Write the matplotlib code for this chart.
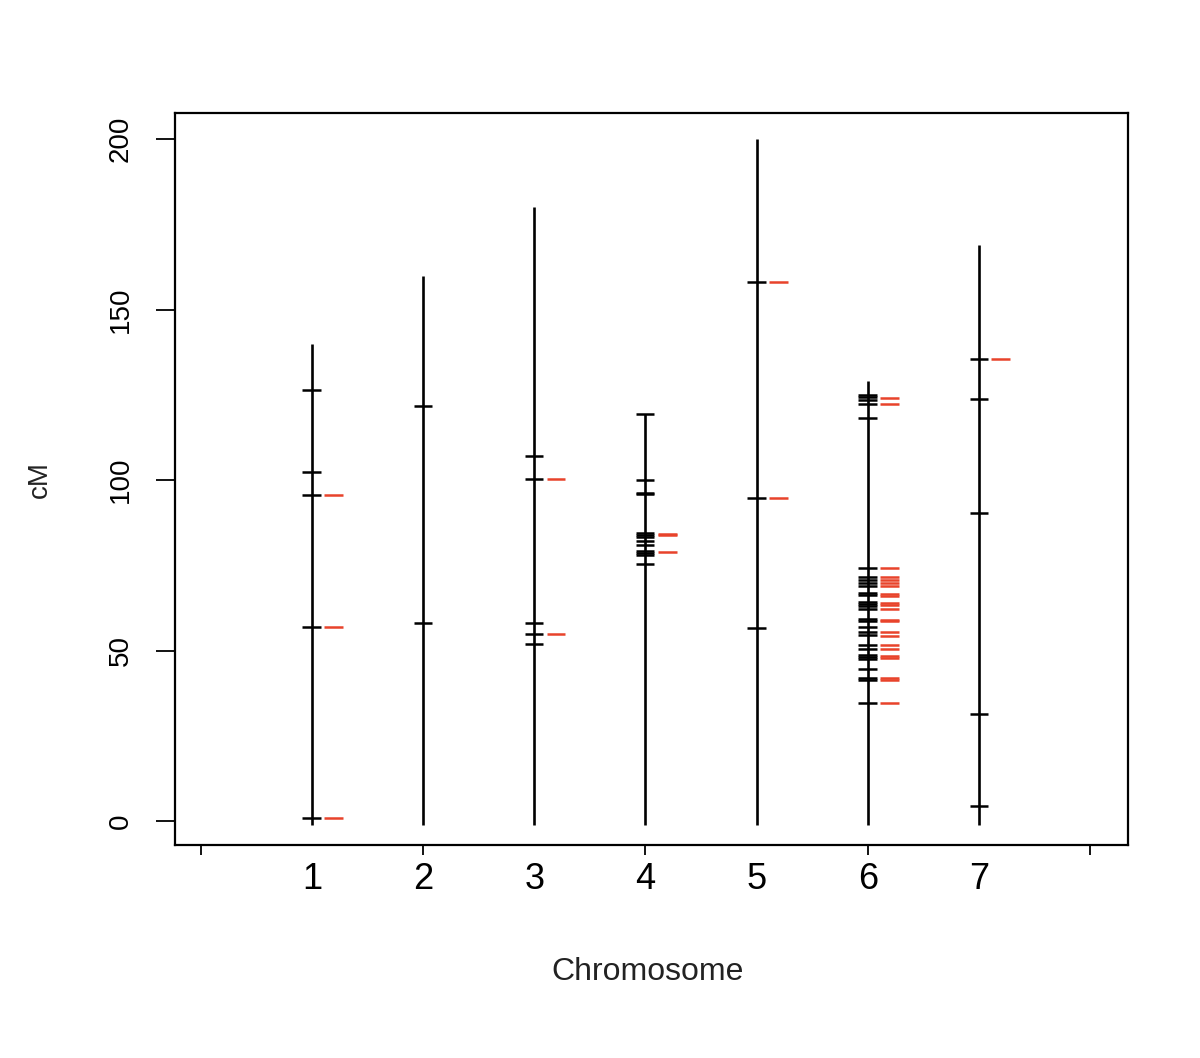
import matplotlib
matplotlib.use("Agg")
import matplotlib.pyplot as plt

plt.rcParams['font.family'] = ['Liberation Sans', 'DejaVu Sans']

# chromosome numbers and their lengths (cM)
chroms = [1, 2, 3, 4, 5, 6, 7]
lengths = [140, 160, 180, 119.5, 200, 129, 169]

# marker positions (black ticks on the chromosome)
markers = {
    1: [126.4, 102.5, 95.6, 57, 1],
    2: [121.7, 58],
    3: [107, 100.2, 58, 55, 52],
    4: [119.5, 100, 96.3, 95.8, 84.4, 83.9, 83.3, 82.1, 81.1, 79.2, 78.6, 78.1, 75.4],
    5: [158.2, 94.7, 56.6],
    6: [125.1, 124.3, 123.4, 122.3, 118.2, 74.3, 71.6, 70.7, 69.7, 68.9, 66.8,
        66.2, 64.2, 63.6, 63.1, 62.1, 59.2, 58.6, 56.8, 55.5, 54.5, 51.6, 50.6,
        48.6, 48.0, 47.5, 44.5, 42.1, 41.5, 34.7],
    7: [135.4, 123.8, 90.5, 31.4, 4.4],
}

# highlighted markers (red dashes beside the chromosome)
hits = {
    1: [95.6, 57, 1],
    2: [],
    3: [100.2, 55],
    4: [84.2, 83.8, 79],
    5: [158.2, 94.7],
    6: [124.2, 122.3, 74.3, 71.6, 70.6, 69.7, 68.9, 66.6, 66.1, 64.1, 63.4,
        62.3, 59.1, 58.6, 55.5, 54.3, 51.6, 50.4, 48.5, 47.9, 41.9, 41.4, 34.7],
    7: [135.4],
}

red = '#e8432b'

fig = plt.figure(figsize=(12, 10.58), dpi=100)
ax = fig.add_axes([0.146, 0.2013, 0.794, 0.6917])

for c, L in zip(chroms, lengths):
    ax.plot([c, c], [-1, L], color='black', lw=1.9, solid_capstyle='butt')
    for m in markers[c]:
        ax.plot([c - 0.085, c + 0.08], [m, m], color='black', lw=1.8,
                solid_capstyle='butt')
    for m in hits[c]:
        ax.plot([c + 0.11, c + 0.28], [m, m], color=red, lw=1.8,
                solid_capstyle='butt')

ax.set_xlim(-0.23, 8.34)
ax.set_ylim(-7, 207.6)

ax.set_xticks([0, 2, 4, 6, 8])
ax.set_xticklabels([])
ax.tick_params(axis='x', length=7, width=1.3, direction='out')

ax.set_yticks([0, 50, 100, 150, 200])
ax.tick_params(axis='y', length=14, width=1.3, direction='out', pad=16,
               labelsize=20)
for lab in ax.get_yticklabels():
    lab.set_rotation(90)
    lab.set_va('center')
    lab.set_ha('right')

for sp in ax.spines.values():
    sp.set_linewidth(1.6)

# chromosome labels under the axis
for c in chroms:
    ax.text(c, -17, str(c), ha='center', va='center', fontsize=26,
            clip_on=False)

ax.text(0.496, -0.1735, 'Chromosome', transform=ax.transAxes, ha='center',
        va='center', fontsize=23, color='#222222')
ax.text(-0.142, 0.499, 'cM', transform=ax.transAxes, ha='center',
        va='center', rotation=90, fontsize=20, color='#222222')

fig.savefig('out.png', dpi=100)
